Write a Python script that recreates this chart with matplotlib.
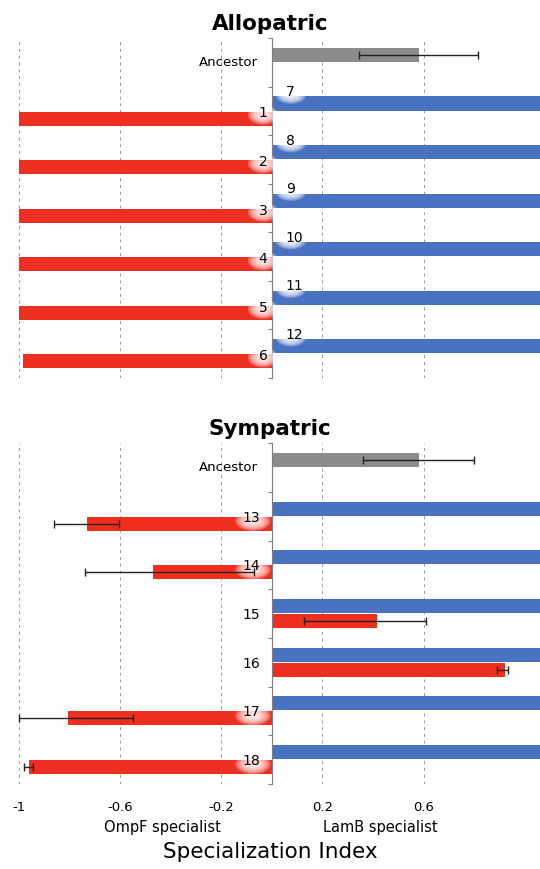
import numpy as np
import matplotlib.pyplot as plt
from matplotlib.patches import Ellipse

RED = "#EE2E1F"
BLUE = "#4A72C2"
GRAY = "#8C8C8C"

# Allopatric: slot 0 is the ancestor, slots 1-6 hold one blue and one red line
allo_blue_labels = ["7", "8", "9", "10", "11", "12"]
allo_blue = [1.1, 1.1, 1.1, 1.1, 1.1, 1.1]   # run past the right edge
allo_red_labels = ["1", "2", "3", "4", "5", "6"]
allo_red = [-1.0, -1.0, -1.0, -1.0, -1.0, -0.985]

# ancestor value with error
anc_allo = 0.58
anc_allo_err = 0.235
anc_sym = 0.58
anc_sym_err = 0.22

# Sympatric: each population has a blue and a red bar
sym_labels = ["13", "14", "15", "16", "17", "18"]
sym_blue = [1.1, 1.1, 1.1, 1.1, 1.1, 1.1]
sym_red = [-0.73, -0.47, 0.415, 0.92, -0.805, -0.96]
sym_err_lo = [0.13, 0.27, 0.29, 0.03, 0.195, 0.02]
sym_err_hi = [0.125, 0.40, 0.195, 0.015, 0.255, 0.015]

xticks = [-1, -0.6, -0.2, 0.2, 0.6]
xtick_labels = ["-1", "-0.6", "-0.2", "0.2", "0.6"]

H = 0.29
OFF = 0.155


def add_glow(ax, x, y, w=0.12, h=0.40):
    # soft white blob behind a label
    for k in np.linspace(1.0, 0.3, 7):
        ax.add_patch(Ellipse((x, y), w * k, h * k, color="white",
                             alpha=0.25, lw=0, zorder=3))


def style_axes(ax, title):
    ax.set_xlim(-1.075, 1.06)
    ax.set_ylim(6.5, -0.5)
    for s in ["top", "right", "bottom"]:
        ax.spines[s].set_visible(False)
    ax.spines["left"].set_position(("data", 0))
    ax.spines["left"].set_color("#7f7f7f")
    ax.spines["left"].set_linewidth(0.8)
    ax.set_yticks(np.arange(-0.5, 7, 1))
    ax.set_yticklabels([])
    ax.tick_params(axis="y", length=3, color="#7f7f7f", width=0.8)
    for g in xticks:
        ax.axvline(g, color="#999999", lw=0.7, ls=(0, (3, 4)), zorder=0)
    ax.set_xticks(xticks)
    ax.set_title(title, fontsize=15.5, fontweight="bold", pad=6)
    ax.text(-0.055, 0, "Ancestor", ha="right", va="center", fontsize=9.5)


fig = plt.figure(figsize=(5.4, 8.69), dpi=100)
ax1 = fig.add_axes([0, 0.565, 1, 0.391])
ax2 = fig.add_axes([0, 0.098, 1, 0.392])

# top panel
style_axes(ax1, "Allopatric")
ax1.tick_params(axis="x", length=0, labelbottom=False)
slots = np.arange(1, 7)
ax1.barh([0 - OFF], [anc_allo], height=H, color=GRAY, zorder=2)
ax1.errorbar([anc_allo], [0 - OFF], xerr=[anc_allo_err], fmt="none",
             ecolor="#222222", elinewidth=1, capsize=3, zorder=5)
ax1.barh(slots - OFF, allo_blue, height=H, color=BLUE, zorder=2)
ax1.barh(slots + OFF, allo_red, height=H, color=RED, zorder=2)
for i, y in enumerate(slots):
    add_glow(ax1, -0.035, y + 0.08)
    ax1.text(-0.035, y + 0.05, allo_red_labels[i], ha="center", va="center",
             fontsize=10, zorder=6)
    add_glow(ax1, 0.075, y - 0.33, w=0.12, h=0.36)
    ax1.text(0.055, y - 0.39, allo_blue_labels[i], ha="left", va="center",
             fontsize=10, zorder=6)

# bottom panel
style_axes(ax2, "Sympatric")
ax2.set_xticklabels(xtick_labels, fontsize=9.5)
ax2.tick_params(axis="x", length=0, pad=12)
ax2.barh([0 - OFF], [anc_sym], height=H, color=GRAY, zorder=2)
ax2.errorbar([anc_sym], [0 - OFF], xerr=[anc_sym_err], fmt="none",
             ecolor="#222222", elinewidth=1, capsize=3, zorder=5)
ax2.barh(slots - OFF, sym_blue, height=H, color=BLUE, zorder=2)
ax2.barh(slots + OFF, sym_red, height=H, color=RED, zorder=2)
ax2.errorbar(sym_red, slots + OFF, xerr=[sym_err_lo, sym_err_hi], fmt="none",
             ecolor="#222222", elinewidth=1, capsize=3, zorder=5)
for i, y in enumerate(slots):
    if sym_red[i] < 0:
        add_glow(ax2, -0.075, y + 0.10, w=0.14, h=0.40)
    ax2.text(-0.045, y + 0.03, sym_labels[i], ha="right", va="center",
             fontsize=10, zorder=6)

fig.text(0.30, 0.048, "OmpF specialist", ha="center", va="center", fontsize=10.5)
fig.text(0.704, 0.048, "LamB specialist", ha="center", va="center", fontsize=10.5)
fig.text(0.5, 0.02, "Specialization Index", ha="center", va="center", fontsize=15.5)

fig.savefig("out.png", dpi=100)
